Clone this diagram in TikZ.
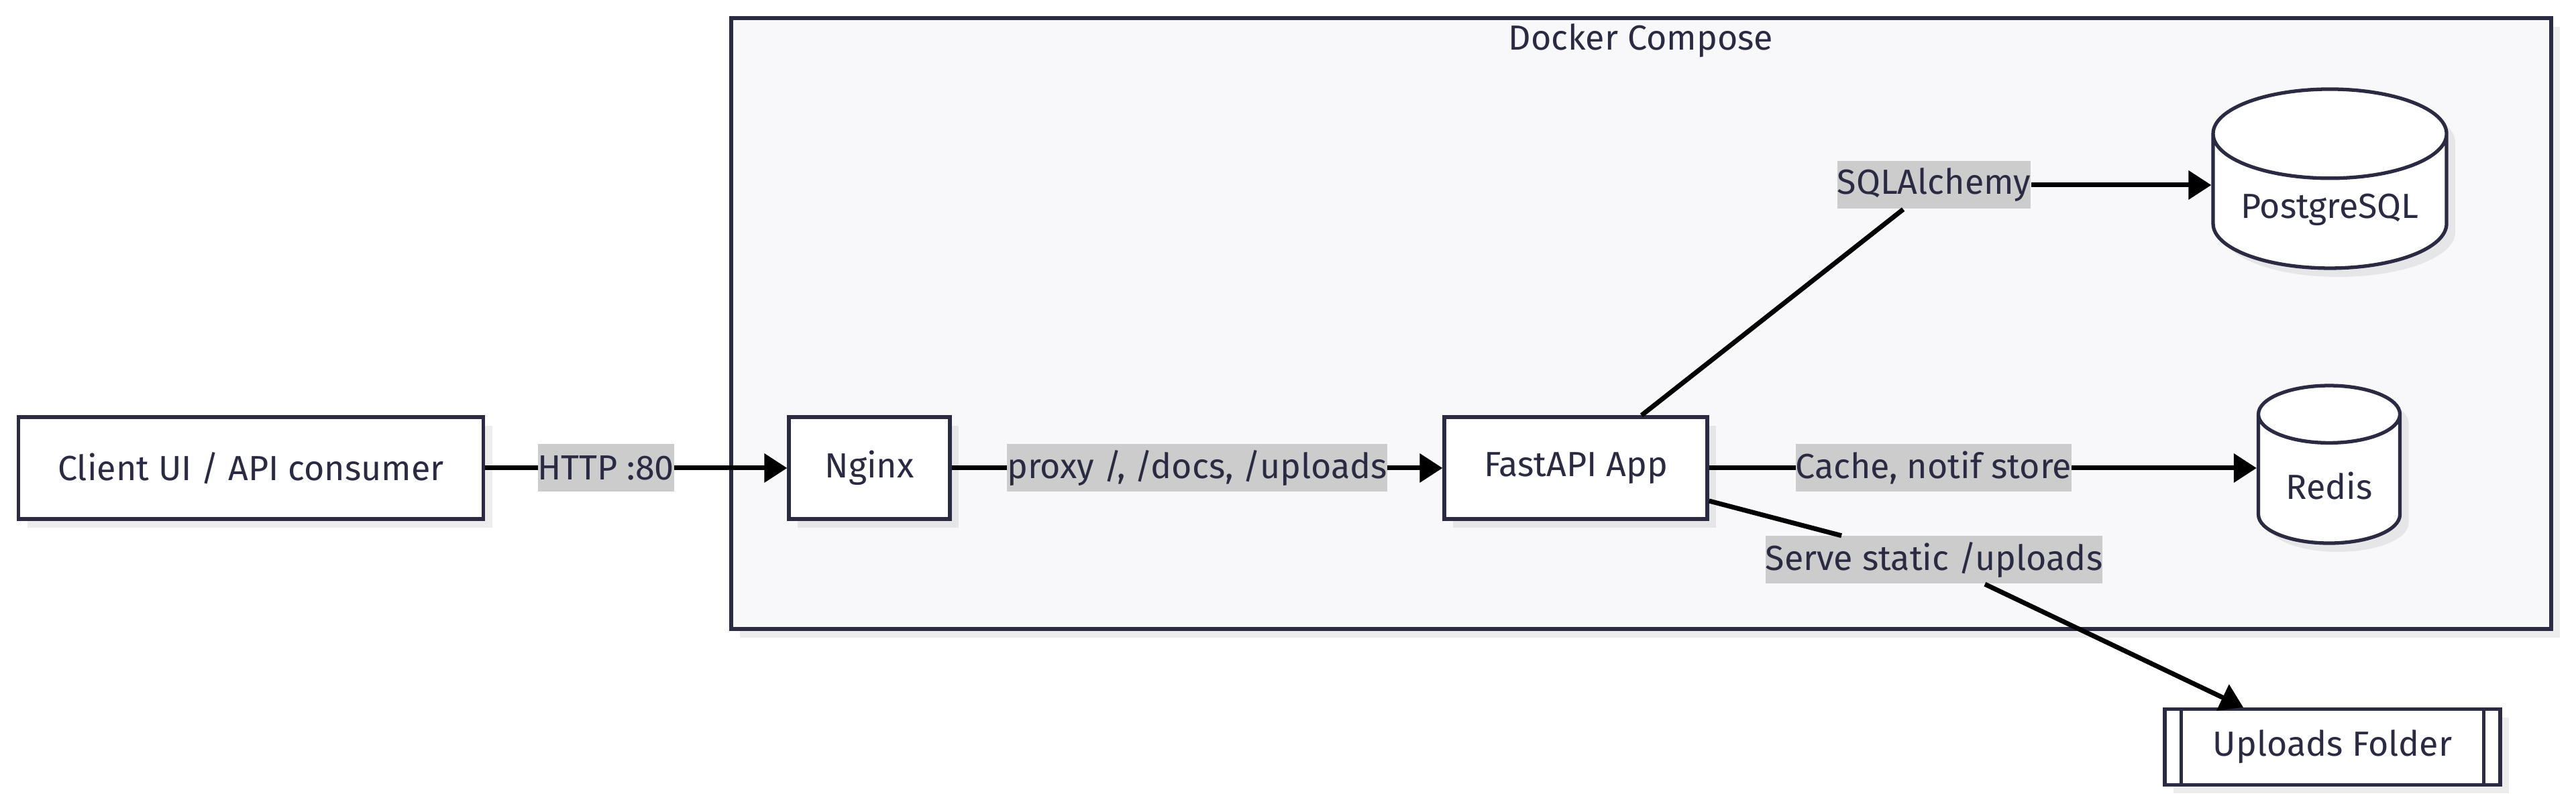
\documentclass[tikz,border=0pt]{standalone}
\usepackage{fontspec}
\setmainfont{Fira Sans}
\usepackage{tikz}
\usetikzlibrary{arrows.meta,shapes.geometric,shadows}

\definecolor{ink}{HTML}{2A2A42}
\definecolor{frameback}{HTML}{F8F8FA}
\definecolor{lblback}{HTML}{CCCCCC}

\tikzset{
  shade box/.style={drop shadow={shadow xshift=0.13cm,shadow yshift=-0.13cm,fill=black,opacity=0.07}},
  svc/.style={draw=ink,line width=1.5pt,fill=white,text=ink,shade box,minimum height=1.52cm},
  store/.style={cylinder,shape border rotate=90,draw=ink,line width=1.5pt,fill=white,text=ink,shade box},
  lbl/.style={fill=lblback,text=ink,inner xsep=0pt,inner ysep=0pt,minimum height=0.71cm},
  arr/.style={line width=2pt,-{Triangle[length=0.34cm,width=0.42cm]}},
  wire/.style={line width=2pt}
}

\begin{document}
\begin{tikzpicture}[font=\fontsize{14.8pt}{17pt}\selectfont]
\useasboundingbox (0,0) rectangle (38.4,11.99);

% compose frame
\draw[ink,line width=1.5pt,fill=frameback,shade box] (10.90,11.72) rectangle (38.03,2.61);
\node[text=ink] (title) at (24.46,11.38) {Docker Compose};

\node[svc,minimum width=6.93cm] (client) at (3.74,5.01) {Client UI / API consumer};
\node[svc,minimum width=2.40cm] (nginx) at (12.96,5.01) {Nginx};
\node[svc,minimum width=3.92cm] (fast) at (23.49,5.01) {FastAPI App};

\node[store,minimum width=3.48cm,minimum height=2.67cm,aspect=0.46] (pg) at (34.73,8.86) {PostgreSQL};
\node[store,minimum width=2.11cm,minimum height=2.35cm,aspect=0.56] (redis) at (34.72,4.74) {Redis};

\node[svc,minimum width=5.0cm,minimum height=1.13cm] (up) at (34.77,0.85) {Uploads Folder};
\draw[ink,line width=1.5pt] ([xshift=0.27cm]up.north west) -- ([xshift=0.27cm]up.south west);
\draw[ink,line width=1.5pt] ([xshift=-0.27cm]up.north east) -- ([xshift=-0.27cm]up.south east);

% edges
\draw[arr] (client) -- node[lbl,pos=0.4] {HTTP :80} (nginx);
\draw[arr] (nginx) -- node[lbl] {proxy /, /docs, /uploads} (fast);
\draw[arr] (fast) -- node[lbl,pos=0.41] {Cache, notif store} (fast -| redis.west);

\node[lbl] (sqla) at (28.83,9.23) {SQLAlchemy};
\draw[wire] ([xshift=0.98cm]fast.north) -- (sqla);
\draw[arr] (sqla) -- (sqla -| pg.west);

\node[lbl] (serve) at (28.83,3.64) {Serve static /uploads};
\draw[wire] ([yshift=-0.49cm]fast.east) -- (serve);
\draw[arr] (serve) -- ([xshift=-1.33cm]up.north);
\end{tikzpicture}
\end{document}
